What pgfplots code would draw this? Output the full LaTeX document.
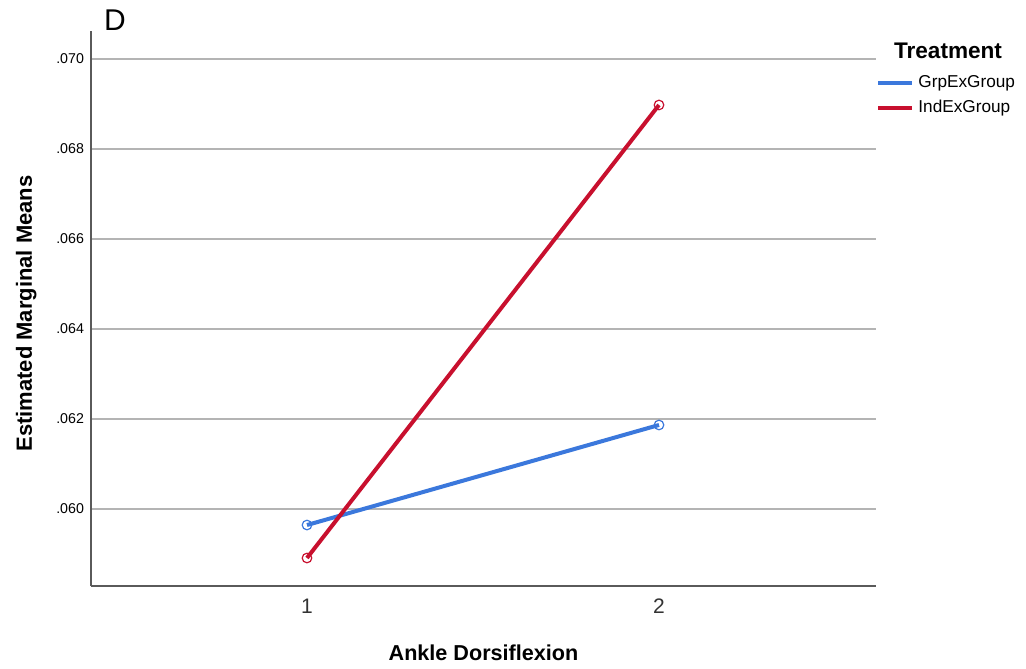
\documentclass[border=0pt]{standalone}
\usepackage{pgfplots}
\pgfplotsset{compat=1.18}
\usepackage{fontspec}
\setmainfont{Liberation Sans}
\definecolor{grpblue}{HTML}{3B78DC}
\definecolor{indred}{HTML}{C8102E}
\definecolor{gridgray}{HTML}{B4B4B4}
\definecolor{axgray}{HTML}{5A5A5A}
\begin{document}
\begin{tikzpicture}[x=0.5pt,y=0.5pt]
\path (0,0) rectangle (1026,668);
\begin{axis}[
  at={(45.5pt,41pt)}, anchor=south west,
  scale only axis, width=392.5pt, height=277.5pt,
  xmin=0.3864, xmax=2.6165,
  ymin=0.058289, ymax=0.070622,
  scaled y ticks=false,
  axis x line*=bottom, axis y line*=left,
  axis line style={axgray, line width=0.8pt},
  xtick={1,2}, ytick={0.060,0.062,0.064,0.066,0.068,0.070},
  yticklabels={.060,.062,.064,.066,.068,.070},
  tick style={draw=none},
  ymajorgrids, grid style={gridgray, line width=0.9pt},
  xticklabel style={font=\fontsize{10.5}{12}\selectfont, text=black!80, yshift=-3pt},
  yticklabel style={font=\fontsize{7.1}{8}\selectfont},
  /pgf/number format/assume math mode=true,
  xlabel={\textbf{Ankle Dorsiflexion}},
  ylabel={\textbf{Estimated Marginal Means}},
  xlabel style={font=\fontsize{10.8}{12}\selectfont, at={(rel axis cs:0.5,0)}, anchor=base, yshift=-37pt},
  ylabel style={font=\fontsize{11}{12}\selectfont, at={(rel axis cs:0,0.5)}, anchor=base, yshift=29.5pt, xshift=-2.5pt},
  clip=false,
  legend style={at={(rel axis cs:1.0,0.928)}, anchor=north west, draw=none, fill=none,
    font=\fontsize{8.6}{9}\selectfont, inner sep=0pt, row sep=1pt,
    /tikz/every even column/.append style={column sep=0pt}},
  legend cell align=left,
  legend image code/.code={\draw[#1, line width=2pt] (0pt,0pt) -- (17pt,0pt);},
]
\addplot[grpblue, line width=2pt, mark=o, mark size=2.4pt, mark options={line width=0.6pt, fill=white}] coordinates {(1,0.059644) (2,0.061867)};
\addlegendentry{GrpExGroup}
\addplot[indred, line width=2pt, mark=o, mark size=2.4pt, mark options={line width=0.6pt, fill=white}] coordinates {(1,0.058911) (2,0.068978)};
\addlegendentry{IndExGroup}
\end{axis}
\node[font=\bfseries\fontsize{11.3}{12}\selectfont, anchor=center] at (948,617) {Treatment};
\node[font=\fontsize{15}{18}\selectfont, anchor=base west] at (97,637) {D};
\end{tikzpicture}
\end{document}
